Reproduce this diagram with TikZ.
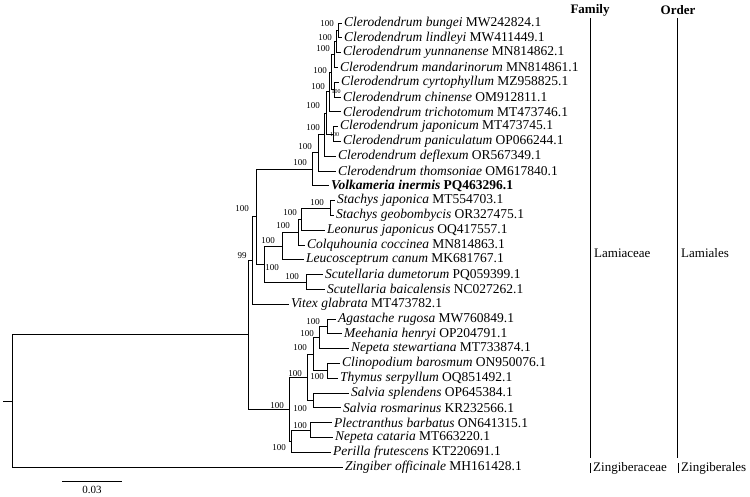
\documentclass[tikz,border=0pt]{standalone}
\usepackage{fontspec}
\setmainfont{Liberation Serif}
\begin{document}
\begin{tikzpicture}[x=1pt,y=-1pt,
  br/.style={line width=0.8pt, black},
  leaf/.style={anchor=west, inner xsep=2.5pt, inner ysep=0pt, font=\fontsize{13.5}{14}\selectfont},
  bs/.style={inner sep=0pt, font=\fontsize{9}{9}\selectfont},
  bss/.style={inner sep=0pt, font=\fontsize{6}{6}\selectfont},
  hdr/.style={inner sep=0pt, font=\bfseries\fontsize{13}{13}\selectfont},
  grp/.style={anchor=west, inner sep=0pt, font=\fontsize{13}{13}\selectfont}]
\useasboundingbox (0,0) rectangle (750,497);

% leaves
\node[leaf] (L1) at (341.5,23) {\textit{Clerodendrum bungei} MW242824.1};
\node[leaf] (L2) at (341.5,37.8) {\textit{Clerodendrum lindleyi} MW411449.1};
\node[leaf] (L3) at (340.5,52.6) {\textit{Clerodendrum yunnanense} MN814862.1};
\node[leaf] (L4) at (337.5,67.4) {\textit{Clerodendrum mandarinorum} MN814861.1};
\node[leaf] (L5) at (338.5,82.2) {\textit{Clerodendrum cyrtophyllum} MZ958825.1};
\node[leaf] (L6) at (340.5,97) {\textit{Clerodendrum chinense} OM912811.1};
\node[leaf] (L7) at (340.5,111.8) {\textit{Clerodendrum trichotomum} MT473746.1};
\node[leaf] (L8) at (337.5,126.6) {\textit{Clerodendrum japonicum} MT473745.1};
\node[leaf] (L9) at (340.5,141.4) {\textit{Clerodendrum paniculatum} OP066244.1};
\node[leaf] (L10) at (335.5,156.2) {\textit{Clerodendrum deflexum} OR567349.1};
\node[leaf] (L11) at (335.5,171) {\textit{Clerodendrum thomsoniae} OM617840.1};
\node[leaf] (L12) at (328.5,185.8) {\textbf{\textit{Volkameria inermis} PQ463296.1}};
\node[leaf] (L13) at (334.5,200.6) {\textit{Stachys japonica} MT554703.1};
\node[leaf] (L14) at (333.5,215.4) {\textit{Stachys geobombycis} OR327475.1};
\node[leaf] (L15) at (324.5,230.2) {\textit{Leonurus japonicus} OQ417557.1};
\node[leaf] (L16) at (304.5,245) {\textit{Colquhounia coccinea} MN814863.1};
\node[leaf] (L17) at (303.5,259.8) {\textit{Leucosceptrum canum} MK681767.1};
\node[leaf] (L18) at (322.5,274.6) {\textit{Scutellaria dumetorum} PQ059399.1};
\node[leaf] (L19) at (324.5,289.4) {\textit{Scutellaria baicalensis} NC027262.1};
\node[leaf] (L20) at (288.5,304.2) {\textit{Vitex glabrata} MT473782.1};
\node[leaf] (L21) at (335.5,319) {\textit{Agastache rugosa} MW760849.1};
\node[leaf] (L22) at (341.5,333.8) {\textit{Meehania henryi} OP204791.1};
\node[leaf] (L23) at (348.5,348.6) {\textit{Nepeta stewartiana} MT733874.1};
\node[leaf] (L24) at (339.5,363.4) {\textit{Clinopodium barosmum} ON950076.1};
\node[leaf] (L25) at (337.5,378.2) {\textit{Thymus serpyllum} OQ851492.1};
\node[leaf] (L26) at (348.5,393) {\textit{Salvia splendens} OP645384.1};
\node[leaf] (L27) at (340.5,407.8) {\textit{Salvia rosmarinus} KR232566.1};
\node[leaf] (L28) at (331.5,422.6) {\textit{Plectranthus barbatus} ON641315.1};
\node[leaf] (L29) at (332.5,437.4) {\textit{Nepeta cataria} MT663220.1};
\node[leaf] (L30) at (330.5,452.2) {\textit{Perilla frutescens} KT220691.1};
\node[leaf] (L31) at (342.5,467) {\textit{Zingiber officinale} MH161428.1};

% internal nodes
\coordinate (nbl) at (338,30.4);
\coordinate (ny) at (336,41.5);
\coordinate (nm) at (334,54.5);
\coordinate (ncc) at (334,89.6);
\coordinate (nA1) at (331,72);
\coordinate (nt) at (329,91.9);
\coordinate (njp) at (333,134);
\coordinate (nC) at (326,113);
\coordinate (nd) at (324,134.6);
\coordinate (nth) at (318,152.8);
\coordinate (F2) at (312,169.3);
\coordinate (nst) at (330,208);
\coordinate (nle) at (301,219.1);
\coordinate (nco) at (298,232);
\coordinate (nlc) at (282,246);
\coordinate (nsc) at (306,282);
\coordinate (nB) at (264,264);
\coordinate (nA) at (256,216.6);
\coordinate (n99) at (252,260.4);
\coordinate (nam) at (327,326.4);
\coordinate (nns) at (319,337.5);
\coordinate (nct) at (327,370.8);
\coordinate (nX) at (313,354);
\coordinate (nsa) at (313,400.4);
\coordinate (nY) at (307,377);
\coordinate (npn) at (310,430);
\coordinate (npp) at (291,441);
\coordinate (nbot) at (289,409);
\coordinate (nLam) at (248,334.7);
\coordinate (root) at (12,400.9);
\coordinate (stub) at (3,400.9);

% branches
\draw[br] (nbl) |- (L1.west); \draw[br] (nbl) |- (L2.west);
\draw[br] (ny) |- (nbl); \draw[br] (ny) |- (L3.west);
\draw[br] (nm) |- (ny); \draw[br] (nm) |- (L4.west);
\draw[br] (ncc) |- (L5.west); \draw[br] (ncc) |- (L6.west);
\draw[br] (nA1) |- (nm); \draw[br] (nA1) |- (ncc);
\draw[br] (nt) |- (nA1); \draw[br] (nt) |- (L7.west);
\draw[br] (njp) |- (L8.west); \draw[br] (njp) |- (L9.west);
\draw[br] (nC) |- (nt); \draw[br] (nC) |- (njp);
\draw[br] (nd) |- (nC); \draw[br] (nd) |- (L10.west);
\draw[br] (nth) |- (nd); \draw[br] (nth) |- (L11.west);
\draw[br] (F2) |- (nth); \draw[br] (F2) |- (L12.west);
\draw[br] (nst) |- (L13.west); \draw[br] (nst) |- (L14.west);
\draw[br] (nle) |- (nst); \draw[br] (nle) |- (L15.west);
\draw[br] (nco) |- (nle); \draw[br] (nco) |- (L16.west);
\draw[br] (nlc) |- (nco); \draw[br] (nlc) |- (L17.west);
\draw[br] (nsc) |- (L18.west); \draw[br] (nsc) |- (L19.west);
\draw[br] (nB) |- (nlc); \draw[br] (nB) |- (nsc);
\draw[br] (nA) |- (F2); \draw[br] (nA) |- (nB);
\draw[br] (n99) |- (nA); \draw[br] (n99) |- (L20.west);
\draw[br] (nam) |- (L21.west); \draw[br] (nam) |- (L22.west);
\draw[br] (nns) |- (nam); \draw[br] (nns) |- (L23.west);
\draw[br] (nct) |- (L24.west); \draw[br] (nct) |- (L25.west);
\draw[br] (nX) |- (nns); \draw[br] (nX) |- (nct);
\draw[br] (nsa) |- (L26.west); \draw[br] (nsa) |- (L27.west);
\draw[br] (nY) |- (nX); \draw[br] (nY) |- (nsa);
\draw[br] (npn) |- (L28.west); \draw[br] (npn) |- (L29.west);
\draw[br] (npp) |- (npn); \draw[br] (npp) |- (L30.west);
\draw[br] (nbot) |- (nY); \draw[br] (nbot) |- (npp);
\draw[br] (nLam) |- (n99); \draw[br] (nLam) |- (nbot);
\draw[br] (root) |- (nLam); \draw[br] (root) |- (L31.west);
\draw[br] (stub) -- (root);

% bootstrap values
\node[bs] (b1) at (327,24) {100};
\node[bs] (b2) at (325,38) {100};
\node[bs] (b3) at (323,49) {100};
\node[bs] (b4) at (320,71) {100};
\node[bss] (b5) at (336,91.5) {100};
\node[bs] (b6) at (318,87) {100};
\node[bs] (b7) at (313,106) {100};
\node[bss] (b8) at (334.5,134.5) {100};
\node[bs] (b9) at (313,128) {100};
\node[bs] (b10) at (305,147) {100};
\node[bs] (b11) at (300,163) {100};
\node[bs] (b12) at (317,203) {100};
\node[bs] (b13) at (290,213) {100};
\node[bs] (b14) at (283,226) {100};
\node[bs] (b15) at (268,241) {100};
\node[bs] (b16) at (292,277) {100};
\node[bs] (b17) at (272,268) {100};
\node[bs] (b18) at (242,209) {100};
\node[bs] (b19) at (242,256) {99};
\node[bs] (b20) at (313,322) {100};
\node[bs] (b21) at (307,334) {100};
\node[bs] (b22) at (300,348) {100};
\node[bs] (b23) at (317,377) {100};
\node[bs] (b24) at (295,374) {100};
\node[bs] (b25) at (300,409) {100};
\node[bs] (b26) at (300,426) {100};
\node[bs] (b27) at (279,448) {100};
\node[bs] (b28) at (277,406) {100};

% family / order
\node[hdr] (fam) at (590,10) {Family};
\node[hdr] (ord) at (678,10) {Order};
\coordinate (famT) at (590,18); \coordinate (famB) at (590,458);
\coordinate (ordT) at (677,18); \coordinate (ordB) at (677,458);
\draw[br] (famT) -- (famB);
\draw[br] (ordT) -- (ordB);
\node[grp] (lamc) at (594,253) {Lamiaceae};
\node[grp] (laml) at (681,253) {Lamiales};
\coordinate (zfT) at (590,463); \coordinate (zfB) at (590,473);
\coordinate (zoT) at (678,463); \coordinate (zoB) at (678,473);
\draw[br] (zfT) -- (zfB);
\draw[br] (zoT) -- (zoB);
\node[grp] (zfam) at (593,468) {Zingiberaceae};
\node[grp] (zord) at (681,468) {Zingiberales};

% scale bar
\coordinate (sb1) at (62,481); \coordinate (sb2) at (122,481);
\draw[br] (sb1) -- (sb2);
\node[inner sep=0pt, font=\fontsize{11}{11}\selectfont] (sbl) at (92,490) {0.03};
\end{tikzpicture}
\end{document}
